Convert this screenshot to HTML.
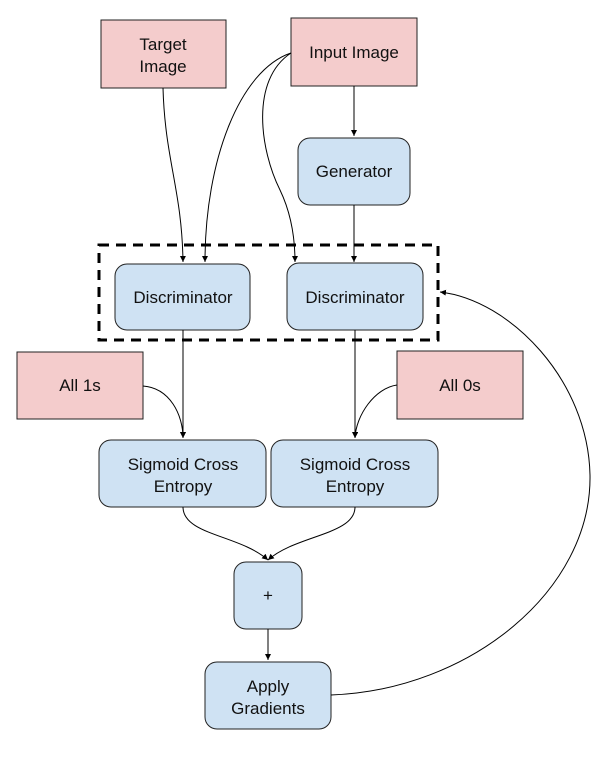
<!DOCTYPE html>
<html><head><style>
body{margin:0;background:#fff;}
svg text{font-family:"Liberation Sans",Arial,sans-serif;font-size:17px;fill:#111;}
</style></head><body>
<svg width="616" height="753" viewBox="0 0 616 753" xmlns="http://www.w3.org/2000/svg">
<defs><marker id="a" markerWidth="8" markerHeight="8" refX="6" refY="3" orient="auto" markerUnits="userSpaceOnUse"><path d="M0,0 L6,3 L0,6 z" fill="#000"/></marker></defs>
<g fill="#f4cccc" stroke="#222" stroke-width="1">
<rect x="101" y="20" width="125" height="68"/>
<rect x="291" y="18" width="126" height="68"/>
<rect x="17" y="352" width="126" height="67"/>
<rect x="397" y="351" width="126" height="68"/>
</g>
<g fill="#cfe2f3" stroke="#222" stroke-width="1">
<rect x="298" y="138" width="112" height="67" rx="12"/>
<rect x="115" y="264" width="135" height="66" rx="12"/>
<rect x="287" y="263" width="136" height="67" rx="12"/>
<rect x="99" y="440" width="167" height="67" rx="12"/>
<rect x="271" y="440" width="167" height="67" rx="12"/>
<rect x="234" y="562" width="68" height="67" rx="12"/>
<rect x="205" y="662" width="126" height="67" rx="12"/>
</g>
<rect x="99" y="245" width="339" height="95" fill="none" stroke="#000" stroke-width="3" stroke-dasharray="10,7"/>
<g fill="none" stroke="#000" stroke-width="1" marker-end="url(#a)">
<path d="M163,88 C165,160 182,190 183,262"/>
<path d="M291,53 C240,70 205,160 205,262"/>
<path d="M291,53 C250,80 260,150 280,190 C292,215 295,240 295,262"/>
<path d="M354,86 L354,136"/>
<path d="M354,205 L354,262"/>
<path d="M183,330 L183,438"/>
<path d="M355,330 L355,438"/>
<path d="M143,386 C170,388 183,415 183,438"/>
<path d="M397,385 C375,388 356,415 355,438"/>
<path d="M183,507 C183,535 240,535 268,560"/>
<path d="M355,507 C355,535 296,535 268,560"/>
<path d="M268,629 L268,660"/>
<path d="M331,695 C470,690 592,590 590,475 C588,380 510,300 440,292"/>
</g>
<g text-anchor="middle">
<text x="163" y="50">Target</text><text x="163" y="72">Image</text>
<text x="354" y="58">Input Image</text>
<text x="354" y="177">Generator</text>
<text x="183" y="303">Discriminator</text>
<text x="355" y="303">Discriminator</text>
<text x="80" y="391">All 1s</text>
<text x="460" y="391">All 0s</text>
<text x="183" y="470">Sigmoid Cross</text><text x="183" y="492">Entropy</text>
<text x="355" y="470">Sigmoid Cross</text><text x="355" y="492">Entropy</text>
<text x="268" y="601">+</text>
<text x="268" y="692">Apply</text><text x="268" y="714">Gradients</text>
</g>
</svg>
</body></html>
